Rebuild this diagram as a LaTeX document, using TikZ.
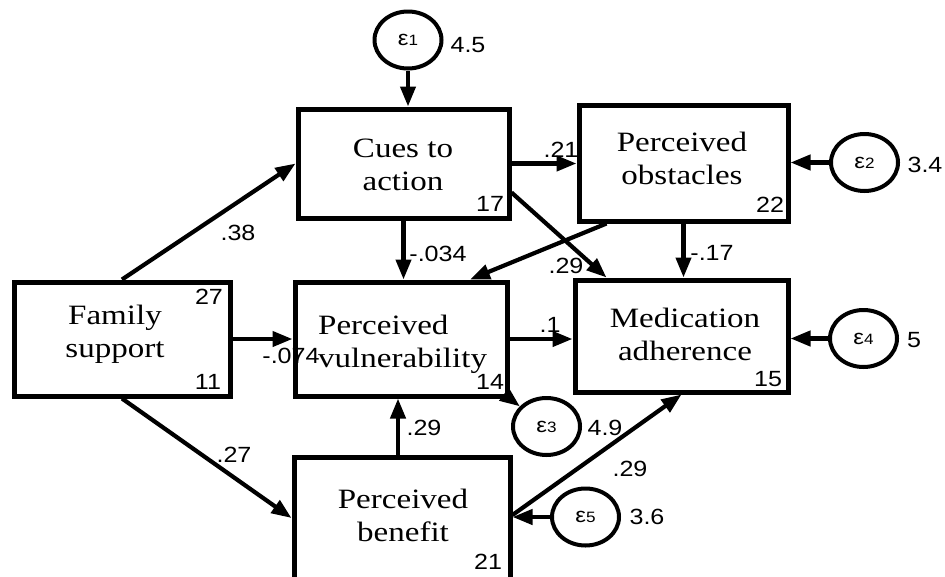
\documentclass[tikz,border=0pt]{standalone}
\usepackage{fontspec}
\setmainfont[FakeStretch=1.18]{Liberation Serif}
\newfontfamily\numfont[FakeStretch=1.14]{Liberation Sans}
\usetikzlibrary{arrows.meta,shapes.geometric,calc}
\newcommand{\epsl}[1]{{\numfont\fontsize{21}{21}\selectfont ε\fontsize{15}{15}\selectfont #1}}
\begin{document}
\begin{tikzpicture}[x=1pt,y=-1pt,
  varbox/.style={draw=black,line width=5pt,rectangle,inner sep=0pt},
  errnode/.style={draw=black,line width=4pt,ellipse,minimum width=67pt,minimum height=57pt,inner sep=0pt},
  lbl/.style={font=\numfont\fontsize{22}{22}\selectfont,inner sep=0pt},
  vartext/.style={font=\fontsize{28}{33}\selectfont,align=center,inner sep=0pt},
  link/.style={line width=4.2pt,-{Triangle[length=20pt,width=15pt]}}]
\useasboundingbox (0,0) rectangle (945,576);
\clip (0,0) rectangle (945,576);
\fill[white] (0,0) rectangle (945,576);
% coefficient labels (drawn first, boxes overlap them)
\node[lbl] (c38) at (238,233) {.38};
\node[lbl] (c074) at (291,356) {-.074};
\node[lbl] (c27) at (234,455) {.27};
\node[lbl] (c034) at (438,254) {-.034};
\node[lbl] (c21) at (561,150) {.21};
\node[lbl] (c29a) at (566,266) {.29};
\node[lbl] (c17) at (712,253) {-.17};
\node[lbl] (c1) at (550,325) {.1};
\node[lbl] (c29b) at (424,428) {.29};
\node[lbl] (c29c) at (630,469) {.29};
% variable boxes
\node[varbox,minimum width=211pt,minimum height=109pt] (cues) at (403.5,163.5) {};
\node[varbox,minimum width=209pt,minimum height=116pt] (obs) at (683.5,163) {};
\node[varbox,minimum width=216pt,minimum height=114pt] (fam) at (122,339) {};
\node[varbox,minimum width=212pt,minimum height=114pt] (vul) at (401,339) {};
\node[varbox,minimum width=213pt,minimum height=112pt] (med) at (681.5,336) {};
\node[varbox,minimum width=216pt,minimum height=126pt] (ben) at (402,520) {};
% box texts
\node[vartext] (cuest) at (403,165) {Cues to\\action};
\node[vartext] (obst) at (682,158) {Perceived\\obstacles};
\node[vartext] (famt) at (115,334) {Family\\support};
\node[vartext,align=left,anchor=west] (vult) at (318,344) {Perceived\\vulnerability};
\node[vartext] (medt) at (685,334) {Medication\\adherence};
\node[vartext] (bent) at (403,515) {Perceived\\benefit};
% numbers in boxes
\node[lbl] (n17) at (490,204) {17};
\node[lbl] (n22) at (770,205) {22};
\node[lbl] (n27) at (209,297) {27};
\node[lbl] (n11) at (208,382) {11};
\node[lbl] (n14) at (490,382) {14};
\node[lbl] (n15) at (768,379) {15};
\node[lbl] (n21) at (488,562) {21};
% error terms
\node[errnode] (e1) at (408,40) {\epsl{1}};
\node[errnode] (e2) at (864.5,162.5) {\epsl{2}};
\node[errnode] (e3) at (546.5,426.5) {\epsl{3}};
\node[errnode] (e4) at (863.5,338.5) {\epsl{4}};
\node[errnode] (e5) at (585.5,517) {\epsl{5}};
\node[lbl] (v1) at (468,45) {4.5};
\node[lbl] (v2) at (925,165) {3.4};
\node[lbl] (v3) at (605,428) {4.9};
\node[lbl] (v4) at (914,340) {5};
\node[lbl] (v5) at (647,517) {3.6};
% anchor points
\coordinate (cuesout) at ($(cues.east)+(0,29)$);
\coordinate (medin) at ($(med.north west)+(34,0)$);
\coordinate (obsout) at ($(obs.south west)+(30,0)$);
\coordinate (vulin) at ($(vul.north)+(69,0)$);
\coordinate (benout) at ($(ben.north)+(-4,0)$);
\coordinate (benin) at (ben.north west |- 0,518);
\coordinate (benright) at (ben.north east |- 0,515);
% paths
\draw[link] (e1) -- (e1 |- cues.north);
\draw[link] (fam.north) -- (cues.west);
\draw[link] (fam.east) -- (fam.east -| vul.west);
\draw[link] (fam.south) -- (benin);
\draw[link] (cues.south) -- (cues.south |- vul.north);
\draw[link] (cues.east) -- (cues.east -| obs.west);
\draw[link] (cuesout) -- (medin);
\draw[link] (obsout) -- (vulin);
\draw[link] (obs.south) -- (obs.south |- med.north);
\draw[link] (e2) -- (e2 -| obs.east);
\draw[link] (vul.east) -- (vul.east -| med.west);
\draw[link] (e4) -- (e4 -| med.east);
\draw[link] (vul.south east) -- (e3);
\draw[link] (benout) -- (benout |- vul.south);
\draw[link] (benright) -- (med.south);
\draw[link] (e5) -- (e5 -| ben.east);
\end{tikzpicture}
\end{document}
